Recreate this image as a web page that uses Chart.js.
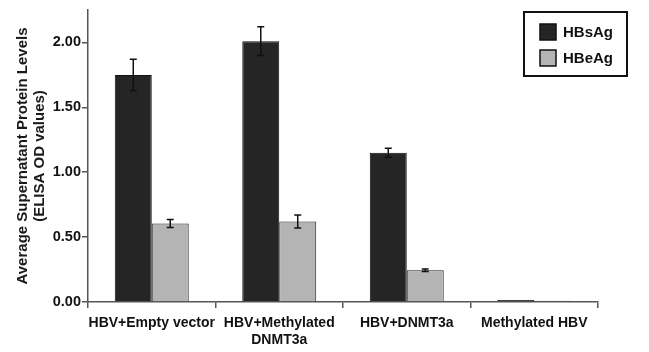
<!DOCTYPE html>
<html><head><meta charset="utf-8">
<script src="https://cdn.jsdelivr.net/npm/chart.js@4/dist/chart.umd.min.js"></script>
<style>html,body{margin:0;padding:0;background:#fff}#wrap{width:649px;height:352px}</style>
</head><body><div id="wrap"><canvas id="c"></canvas></div>
<script>
const categories = ["HBV+Empty vector", ["HBV+Methylated", "DNMT3a"], "HBV+DNMT3a", "Methylated HBV"];
const hbsag = [1.75, 2.01, 1.15, 0.015];
const hbsagErr = [0.12, 0.11, 0.035, 0];
const hbeag = [0.605, 0.62, 0.245, 0.01];
const hbeagErr = [0.03, 0.05, 0.01, 0];
const yTicks = [0, 0.5, 1.0, 1.5, 2.0];

const F = "'Liberation Sans', Arial, sans-serif";

const errorBars = {
  id: 'errorBars',
  afterDatasetsDraw(chart) {
    const ctx = chart.ctx, y = chart.scales.y;
    chart.data.datasets.forEach((ds, i) => {
      const meta = chart.getDatasetMeta(i);
      meta.data.forEach((bar, j) => {
        const v = ds.data[j], e = ds.err[j];
        if (!e) return;
        const top = y.getPixelForValue(v + e), bot = y.getPixelForValue(v - e);
        ctx.save();
        ctx.strokeStyle = '#111'; ctx.lineWidth = 1.5;
        ctx.beginPath();
        ctx.moveTo(bar.x, top); ctx.lineTo(bar.x, bot);
        ctx.moveTo(bar.x - 3.5, top); ctx.lineTo(bar.x + 3.5, top);
        ctx.moveTo(bar.x - 3.5, bot); ctx.lineTo(bar.x + 3.5, bot);
        ctx.stroke();
        ctx.restore();
      });
    });
  }
};

const legendBox = {
  id: 'legendBox',
  afterDraw(chart) {
    const ctx = chart.ctx;
    ctx.save();
    ctx.strokeStyle = '#111'; ctx.lineWidth = 2;
    ctx.strokeRect(524, 12, 103, 64);
    ctx.font = 'bold 15px ' + F;
    ctx.textBaseline = 'middle';
    chart.data.datasets.forEach((ds, i) => {
      const yy = 32 + i * 26;
      ctx.fillStyle = ds.backgroundColor;
      ctx.fillRect(540, yy - 8, 16, 16);
      ctx.lineWidth = 1.5; ctx.strokeStyle = '#111';
      ctx.strokeRect(540, yy - 8, 16, 16);
      ctx.fillStyle = '#111';
      ctx.fillText(ds.label, 563, yy + 1);
    });
    ctx.restore();
  }
};

new Chart(document.getElementById('c'), {
  type: 'bar',
  data: {
    labels: categories,
    datasets: [
      { label: 'HBsAg', data: hbsag, err: hbsagErr, backgroundColor: '#252525', borderColor: '#111', borderWidth: 1 },
      { label: 'HBeAg', data: hbeag, err: hbeagErr, backgroundColor: '#b4b4b4', borderColor: '#222', borderWidth: 1 }
    ]
  },
  options: {
    responsive: true, maintainAspectRatio: false, animation: false,
    layout: { padding: { top: 10, right: 51, left: 0, bottom: 0 } },
    datasets: { bar: { categoryPercentage: 0.58, barPercentage: 1.0 } },
    plugins: { legend: { display: false }, tooltip: { enabled: false } },
    scales: {
      x: {
        grid: { display: true, offset: true, drawOnChartArea: false, drawTicks: true, tickLength: 6, color: '#555', lineWidth: 1.5 },
        border: { display: true, color: '#555', width: 1.5 },
        ticks: { color: '#111', font: { family: F, size: 14, weight: 'bold' }, maxRotation: 0, autoSkip: false, padding: 7 },
        afterFit(s) { s.height = 50; }
      },
      y: {
        min: 0, max: 2.25,
        afterBuildTicks(s) { s.ticks = yTicks.map(v => ({ value: v })); },
        grid: { display: true, drawOnChartArea: false, drawTicks: true, tickLength: 6, color: '#555', lineWidth: 1.5 },
        border: { display: true, color: '#555', width: 1.5 },
        ticks: { color: '#111', font: { family: F, size: 14.5, weight: 'bold' }, padding: 1, callback: v => Number(v).toFixed(2) },
        title: { display: true, text: ['Average Supernatant Protein Levels', '(ELISA OD values)'], color: '#1a1a1a', font: { family: F, size: 15, weight: 'bold', lineHeight: 1.1 }, padding: { top: 15, bottom: 0 } },
        afterFit(s) { s.width = 88; }
      }
    }
  },
  plugins: [errorBars, legendBox]
});
</script></body></html>
